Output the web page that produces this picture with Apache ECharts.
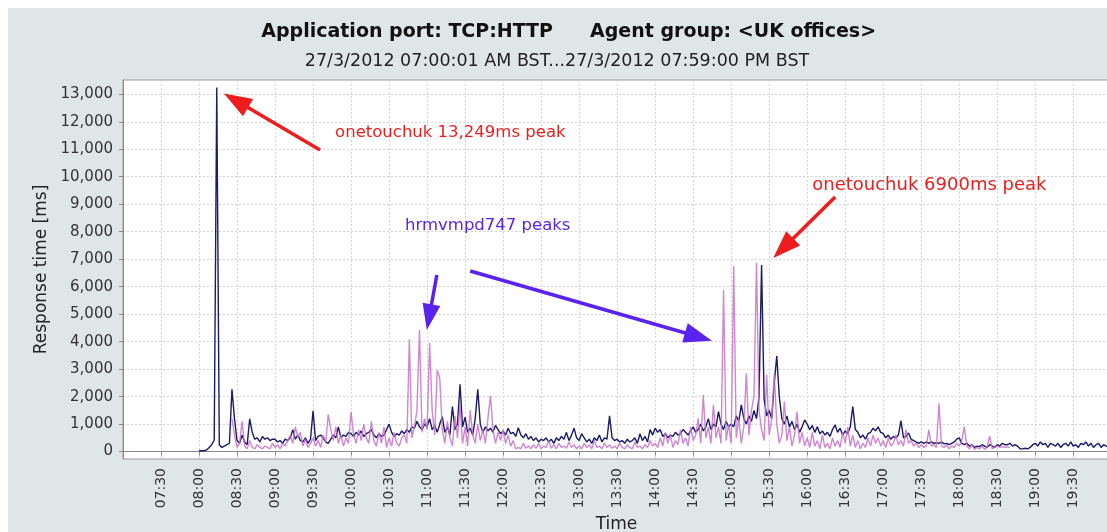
<!DOCTYPE html>
<html><head><meta charset="utf-8">
<script src="https://cdn.jsdelivr.net/npm/echarts@6/dist/echarts.min.js"></script>
<style>html,body{margin:0;padding:0;background:#fff}#c{width:1107px;height:532px}</style>
</head><body><div id="c"></div>
<script>
// time in minutes since midnight; samples every 2 minutes from 08:00
const startMinute = 480;
const stepMinutes = 2;
const xRange = [420, 1199];            // 07:00 .. 19:59
const yTickValues = [0,1000,2000,3000,4000,5000,6000,7000,8000,9000,10000,11000,12000,13000];

// onetouchuk (navy)
const onetouchuk = [
  30,30,30,60,150,250,420,13249,250,150,200,250,300,2270,1190,400,300,600,350,250,1190,700,450,500,350,550,450,500,400,450,
  450,350,400,300,450,400,500,800,450,600,400,350,500,300,450,1480,400,550,600,500,350,300,450,600,500,900,500,600,550,700,
  650,550,700,600,750,550,650,700,800,600,500,650,550,600,800,1000,700,550,650,600,750,650,800,700,900,850,1100,900,800,1000,
  900,1200,800,950,700,1000,1270,700,900,600,1640,800,1000,2450,900,1250,700,850,600,1200,2270,1000,700,900,750,850,700,950,800,650,
  750,600,850,650,700,550,870,600,500,650,450,550,400,500,350,450,400,500,350,450,300,500,400,550,450,700,400,600,850,500,
  400,650,500,350,450,300,500,400,600,350,500,450,1300,500,400,450,350,400,300,450,350,400,500,300,650,400,550,350,800,600,
  850,700,800,550,650,500,600,550,700,600,650,800,700,600,750,900,700,800,1000,750,900,1200,800,1000,900,1450,1000,800,1100,900,
  1000,900,1300,1100,1700,1200,1000,1300,1100,1500,1200,2000,6790,1900,1300,1500,1200,2500,3480,2000,1200,1000,1300,900,1100,800,1000,700,900,1150,
  1000,800,950,700,900,650,750,600,700,550,800,970,700,850,600,750,650,900,1640,800,700,500,600,450,650,700,850,750,900,700,
  650,500,600,450,550,500,600,1130,500,550,680,450,400,350,300,350,300,350,300,350,300,320,300,350,280,300,250,300,350,450,
  500,300,250,300,200,250,150,200,180,250,200,150,250,200,150,250,200,300,250,250,300,200,250,200,100,100,120,100,150,250,
  300,200,350,250,300,150,300,250,200,300,150,250,300,200,350,200,250,150,300,250,350,200,300,150,250,300,150,250,200,150
];

// hrmvmpd747 (pink) — no visible samples after about 18:40
const hrmvmpd747 = [
  null,null,null,null,null,null,null,null,null,null,null,null,null,1200,600,150,300,1100,200,100,400,150,100,250,150,100,200,150,100,300,
  150,250,100,300,200,400,600,300,900,500,700,200,450,150,300,500,200,400,150,600,350,1350,800,400,900,300,600,200,500,300,
  1450,600,300,800,400,1000,500,300,1100,400,200,700,300,900,150,500,200,700,300,200,500,600,300,4090,500,900,1500,4430,700,1200,
  800,3960,1500,600,2970,2680,800,300,1100,500,200,1300,500,1700,300,900,200,1500,600,300,1000,400,800,300,1200,2030,800,300,700,400,
  800,300,600,200,400,100,150,100,300,120,200,100,250,120,300,100,200,150,400,120,250,100,300,150,200,120,350,150,250,100,
  200,100,300,150,250,100,400,150,200,100,300,150,250,120,200,100,300,150,100,250,150,100,350,150,200,100,250,150,400,200,
  300,150,500,200,700,300,600,150,400,250,800,300,500,200,900,400,600,1200,300,2060,500,900,300,1700,500,900,300,5880,400,1000,
  300,6750,500,1200,300,900,2850,600,1500,2000,6870,1500,800,400,2790,600,1200,2820,1000,300,600,1820,400,900,200,600,1450,300,700,200,
  500,150,700,200,400,100,600,150,300,100,500,200,400,150,700,300,900,200,600,150,400,100,300,150,500,200,600,300,500,200,
  400,150,500,200,300,600,250,400,200,800,300,400,200,300,150,250,150,200,790,200,250,150,1760,200,150,250,100,200,150,300,
  200,400,910,200,100,250,80,150,100,200,80,150,570,100,150,200,150,180,150,170,150,null,null,null,null,null,null,null,null,null,
  null,null,null,null,null,null,null,null,null,null,null,null,null,null,null,null,null,null,null,null,null,null,null,null,null,null,null,null,null,null
];

const toPairs = arr => arr.map((v, i) => [startMinute + i * stepMinutes, v == null ? '-' : v]);
const fmtTime = m => String(Math.floor(m / 60)).padStart(2, '0') + ':' + String(m % 60).padStart(2, '0');
const FONT = '"DejaVu Sans", Verdana, sans-serif';
const RED = '#ee1c1c', BLUE = '#5a22ee';

// annotation arrows in data space (tail -> tip)
const arrowDefs = [
  { from: [575.5, 10970], to: [499.7, 13033], color: RED,  size: [20, 28] },
  { from: [982.1, 9261],  to: [933.2, 7043],  color: RED,  size: [20, 28] },
  { from: [667.7, 6425],  to: [659.8, 4425],  color: BLUE, size: [18, 26] },
  { from: [694, 6570],    to: [884.8, 4036],  color: BLUE, size: [20, 28] }
];

function note(at, text, color, size) {
  return { coord: at, symbol: 'circle', symbolSize: 0,
    label: { show: true, formatter: text, position: [0, 0], align: 'left', verticalAlign: 'middle',
      color, fontSize: size, fontFamily: FONT } };
}
function buildArrows(chart) {
  return arrowDefs.map(a => {
    let to = a.to;
    if (chart) {
      const p0 = chart.convertToPixel({ gridIndex: 0 }, a.from);
      const p1 = chart.convertToPixel({ gridIndex: 0 }, a.to);
      const dx = p1[0] - p0[0], dy = p1[1] - p0[1], L = Math.hypot(dx, dy);
      const back = a.size[1] / 2;
      to = chart.convertFromPixel({ gridIndex: 0 }, [p1[0] - dx / L * back, p1[1] - dy / L * back]);
    }
    return [
      { coord: a.from, symbol: 'none', lineStyle: { color: a.color, width: 3.5, type: 'solid' } },
      { coord: to, symbol: 'triangle', symbolSize: a.size }
    ];
  });
}

const chart = echarts.init(document.getElementById('c'), null, { renderer: 'canvas' });
chart.setOption({
  animation: false,
  backgroundColor: '#ffffff',
  graphic: [
    { type: 'rect', left: 8, top: 8, shape: { width: 1107, height: 532 }, style: { fill: '#dfe6e8' }, z: -10, silent: true },
    { type: 'text', x: 553, y: 32, style: { text: 'Application port: TCP:HTTP', font: 'bold 19px ' + FONT, fill: '#111', align: 'right', verticalAlign: 'middle' } },
    { type: 'text', x: 590, y: 32, style: { text: 'Agent group: <UK offices>', font: 'bold 19px ' + FONT, fill: '#111', align: 'left', verticalAlign: 'middle' } },
    { type: 'text', x: 557, y: 61, style: { text: '27/3/2012 07:00:01 AM BST...27/3/2012 07:59:00 PM BST', font: '17.5px ' + FONT, fill: '#222', align: 'center', verticalAlign: 'middle' } }
  ],
  grid: { left: 123, top: 80, width: 987, height: 379, outerBoundsMode: 'none', containLabel: false,
    show: true, backgroundColor: '#ffffff', borderColor: '#9a9a9a', borderWidth: 1 },
  xAxis: {
    type: 'value', min: xRange[0], max: xRange[1], interval: 30,
    name: 'Time', nameLocation: 'middle', nameGap: 56,
    nameTextStyle: { fontSize: 17, fontFamily: FONT, color: '#222' },
    axisLine: { show: true, lineStyle: { color: '#8a8a8a' } },
    axisTick: { show: true, length: 4, lineStyle: { color: '#8a8a8a' } },
    axisLabel: { rotate: 90, margin: 9, fontSize: 14, fontFamily: FONT, color: '#333', formatter: fmtTime, showMinLabel: false, showMaxLabel: false },
    splitLine: { show: true, lineStyle: { color: '#d4d4d4', type: [2, 2] } }
  },
  yAxis: {
    type: 'value', min: -270, max: 13520,
    name: 'Response time [ms]', nameLocation: 'middle', nameGap: 64,
    nameTextStyle: { fontSize: 17, fontFamily: FONT, color: '#222' },
    axisLine: { show: true, lineStyle: { color: '#8a8a8a' } },
    axisTick: { show: true, length: 4, customValues: yTickValues, lineStyle: { color: '#8a8a8a' } },
    axisLabel: { margin: 10, fontSize: 15, fontFamily: FONT, color: '#333', customValues: yTickValues,
      formatter: v => v.toLocaleString('en-US') },
    splitLine: { show: true, lineStyle: { color: '#d4d4d4', type: [2, 2] } }
  },
  series: [
    {
      name: 'onetouchuk', type: 'line', data: toPairs(onetouchuk), showSymbol: false, symbol: 'none',
      lineStyle: { color: '#1b1b68', width: 1.4 }, z: 2
    },
    {
      name: 'hrmvmpd747', type: 'line', data: toPairs(hrmvmpd747), showSymbol: false, symbol: 'none',
      connectNulls: false,
      lineStyle: { color: '#c672c8', width: 1.4, opacity: 0.85 }, z: 3,
      markLine: { silent: true, animation: false, label: { show: false }, data: buildArrows(null) },
      markPoint: {
        silent: true, animation: false,
        data: [
          note([587.4, 11589], 'onetouchuk 13,249ms peak', RED, 16.5),
          note([964, 9698], 'onetouchuk 6900ms peak', RED, 18),
          note([642.6, 8207], 'hrmvmpd747 peaks', BLUE, 16.5)
        ]
      }
    }
  ]
});
chart.setOption({ series: [{}, { markLine: { data: buildArrows(chart) } }] });
</script></body></html>
